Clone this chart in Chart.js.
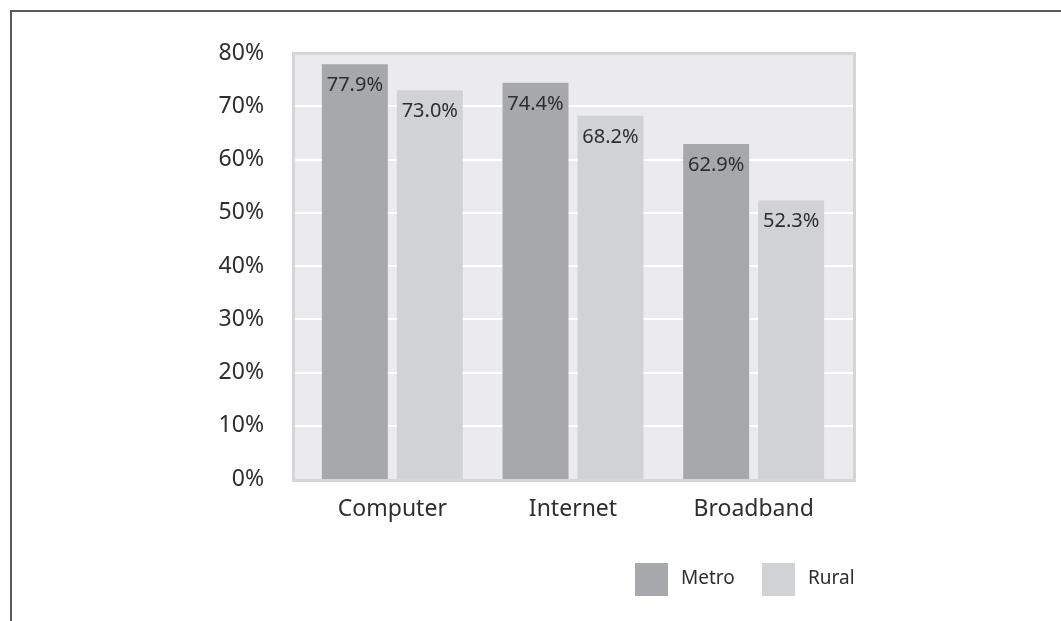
<!DOCTYPE html>
<html>
<head>
<meta charset="utf-8">
<script src="https://cdn.jsdelivr.net/npm/chart.js@4/dist/chart.umd.min.js"></script>
<style>
	html, body { margin: 0; padding: 0; background: #fff; }
	#frame {
		position: absolute; left: 10px; top: 10px; width: 1061px; height: 621px;
		border-top: 2px solid #5a5a5a; border-left: 2px solid #5a5a5a;
	}
	#wrap { position: absolute; left: 0; top: 0; width: 1061px; height: 621px; }
</style>
</head>
<body>
<div id="frame"></div>
<div id="wrap"><canvas id="BarChart" width="1061" height="621"></canvas></div>
<script>
var categorias = ['Computer', 'Internet', 'Broadband'];
var metro = [77.9, 74.4, 62.9];
var rural = [73.0, 68.2, 52.3];
var seriesNames = ['Metro', 'Rural'];
var yTicks = [0, 10, 20, 30, 40, 50, 60, 70, 80];

var FONT = '"Noto Sans", "Open Sans", sans-serif';
var TEXT = '#2e2e2e';

// gray panel behind the bars, a bit wider than the chart area, with white rules
var panelPlugin = {
	id: 'panel',
	beforeDraw: function(chart){
		var ctx = chart.ctx, a = chart.chartArea, y = chart.scales.y;
		var left = a.left - 10, right = a.right + 12, top = a.top - 1, bottom = a.bottom + 3;
		ctx.save();
		ctx.fillStyle = '#d6d6d8';
		ctx.fillRect(left, top, right - left, bottom - top);
		ctx.fillStyle = '#ebebed';
		ctx.fillRect(left + 3, top + 3, right - left - 6, bottom - top - 6);
		ctx.strokeStyle = '#ffffff';
		ctx.lineWidth = 2;
		yTicks.forEach(function(v){
			if (v == 0 || v == 80) return;
			var py = Math.round(y.getPixelForValue(v));
			ctx.beginPath();
			ctx.moveTo(left + 3, py);
			ctx.lineTo(right - 3, py);
			ctx.stroke();
		});
		ctx.restore();
	}
};

// value written just under the top of each bar
var valuePlugin = {
	id: 'values',
	afterDatasetsDraw: function(chart){
		var ctx = chart.ctx;
		ctx.save();
		ctx.font = '20px ' + FONT;
		ctx.fillStyle = TEXT;
		ctx.textAlign = 'center';
		ctx.textBaseline = 'middle';
		chart.data.datasets.forEach(function(ds, i){
			chart.getDatasetMeta(i).data.forEach(function(bar, j){
				ctx.fillText(ds.data[j].toFixed(1) + '%', bar.x, bar.y + 21);
			});
		});
		ctx.restore();
	}
};

// legend squares at the bottom right
var legendPlugin = {
	id: 'legendBoxes',
	afterDraw: function(chart){
		var ctx = chart.ctx, a = chart.chartArea;
		var x = a.right - 209, top = a.bottom + 84, size = 33;
		ctx.save();
		ctx.font = '19px ' + FONT;
		ctx.textBaseline = 'middle';
		ctx.textAlign = 'left';
		chart.data.datasets.forEach(function(ds){
			ctx.fillStyle = ds.backgroundColor;
			ctx.fillRect(x, top, size, size);
			ctx.fillStyle = TEXT;
			ctx.fillText(ds.label, x + size + 13, top + size / 2 - 1);
			x += 127;
		});
		ctx.restore();
	}
};

var data = {
	labels: categorias,
	datasets: [
		{
			label: seriesNames[0],
			data: metro,
			backgroundColor: '#a7a8ab',
			categoryPercentage: 0.83,
			barPercentage: 0.88
		},
		{
			label: seriesNames[1],
			data: rural,
			backgroundColor: '#d1d2d4',
			categoryPercentage: 0.83,
			barPercentage: 0.88
		}
	]
};

new Chart(document.getElementById('BarChart'), {
	type: 'bar',
	data: data,
	options: {
		responsive: false,
		animation: false,
		layout: { padding: { left: 0, right: 217, top: 53, bottom: 80 } },
		plugins: {
			legend: { display: false },
			tooltip: { enabled: false }
		},
		scales: {
			x: {
				grid: { display: false, drawTicks: false },
				border: { display: false },
				ticks: { padding: 17, color: TEXT, font: { family: FONT, size: 23 } },
				afterFit: function(scale){ scale.height = 62; }
			},
			y: {
				min: 0,
				max: 80,
				grid: { display: false, drawTicks: false },
				border: { display: false },
				ticks: {
					stepSize: 10,
					padding: 38,
					color: TEXT,
					font: { family: FONT, size: 23 },
					callback: function(v){ return v + '%'; }
				},
				afterFit: function(scale){ scale.width = 302; }
			}
		}
	},
	plugins: [panelPlugin, valuePlugin, legendPlugin]
});
</script>
</body>
</html>
